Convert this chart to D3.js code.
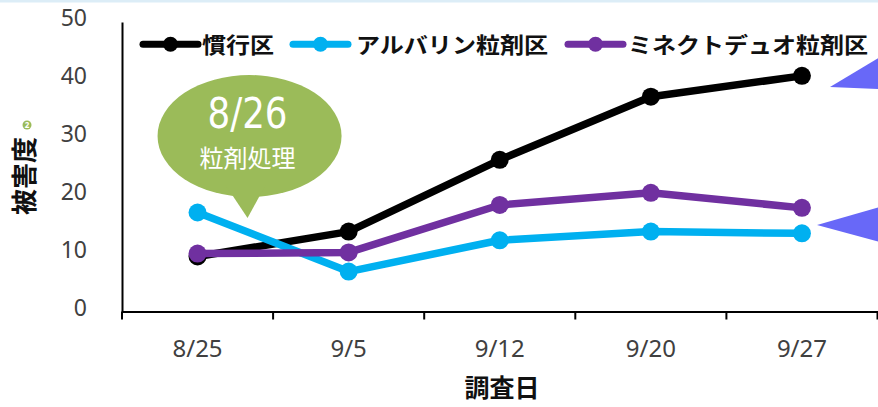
<!DOCTYPE html>
<html>
<head>
<meta charset="utf-8">
<script src="https://cdn.jsdelivr.net/npm/d3@7"></script>
<style>
  html, body { margin: 0; padding: 0; background: #fff; }
  svg { display: block; }
  .tick text { font-family: "Noto Sans", sans-serif; }
  .jp { font-family: "Noto Sans CJK JP", sans-serif; }
</style>
</head>
<body>
<svg id="chart" width="878" height="407"></svg>
<script>
// === Datos ===
const dates = ['8/25', '9/5', '9/12', '9/20', '9/27'];
const seriesNames = ['慣行区', 'アルバリン粒剤区', 'ミネクトデュオ粒剤区'];
const seriesColors = ['#000000', '#00b0f0', '#7030a0'];
const kanko = [9.5, 13.8, 26.2, 37.1, 40.7];
const albarin = [17.1, 6.9, 12.3, 13.8, 13.5];
const minecto = [10.0, 10.2, 18.4, 20.5, 17.9];
const yTicks = [0, 10, 20, 30, 40, 50];

const W = 878, H = 407;
const margin = { top: 22, right: 0, bottom: 95.5, left: 122 };
const svg = d3.select('#chart');

// franja superior
svg.append('rect').attr('x', 0).attr('y', 0).attr('width', W).attr('height', 2.5).attr('fill', '#dcedf7');

// === Escalas ===
const x = d3.scaleBand().domain(dates).range([margin.left, margin.left + 151.1 * dates.length]);
const y = d3.scaleLinear().domain([0, 50]).range([H - margin.bottom, margin.top]);
const cx = d => x(d) + x.bandwidth() / 2;

// === Ejes ===
const yAxis = svg.append('g')
  .attr('transform', `translate(${margin.left},0)`)
  .call(d3.axisLeft(y).tickValues(yTicks).tickSize(0).tickPadding(35));
yAxis.select('.domain').attr('stroke', '#000').attr('stroke-width', 2);
yAxis.selectAll('.tick text').attr('font-size', 23).attr('fill', '#404040').attr('dy', '0.17em');

const xAxis = svg.append('g')
  .attr('transform', `translate(0,${y(0)})`)
  .call(d3.axisBottom(x).tickSize(0).tickPadding(28));
xAxis.select('.domain').attr('stroke', '#000').attr('stroke-width', 2.2);
xAxis.selectAll('.tick text').attr('font-size', 24).attr('fill', '#404040');
// ticks en los bordes de categoría
xAxis.selectAll('line.bnd')
  .data(dates.concat(['end']))
  .join('line')
  .attr('class', 'bnd')
  .attr('x1', (d, i) => margin.left + i * x.step())
  .attr('x2', (d, i) => margin.left + i * x.step())
  .attr('y1', 0).attr('y2', 8)
  .attr('stroke', '#000').attr('stroke-width', 2);

// títulos de ejes
svg.append('text').attr('class', 'jp')
  .attr('x', 502).attr('y', 397)
  .attr('text-anchor', 'middle').attr('font-size', 25).attr('font-weight', 'bold').attr('fill', '#111')
  .text('調査日');
svg.append('text').attr('class', 'jp')
  .attr('transform', 'translate(34,176) rotate(-90)')
  .attr('text-anchor', 'middle').attr('font-size', 26).attr('font-weight', 'bold').attr('fill', '#111')
  .text('被害度');
svg.append('circle').attr('cx', 27).attr('cy', 125).attr('r', 4.5).attr('fill', '#9bbb59');
svg.append('text').attr('x', 27).attr('y', 128).attr('text-anchor', 'middle')
  .attr('font-family', 'Noto Sans, sans-serif').attr('font-weight', 'bold').attr('font-size', 8).attr('fill', '#fff').text('2');

// === Globo 8/26 ===
const bx = cx('8/25') + 50;
const balloon = svg.append('g');
balloon.append('ellipse').attr('cx', bx + 2).attr('cy', 136).attr('rx', 92).attr('ry', 61).attr('fill', '#9bbb59');
balloon.append('path')
  .attr('d', `M${bx - 22},185 L${bx + 18},185 L${bx},218 Z`)
  .attr('fill', '#9bbb59');
balloon.append('text')
  .attr('x', bx).attr('y', 128)
  .attr('text-anchor', 'middle').attr('fill', '#fff')
  .attr('font-family', 'DejaVu Sans Condensed, DejaVu Sans, sans-serif').attr('font-weight', 300)
  .attr('font-size', 43).attr('textLength', 80).attr('lengthAdjust', 'spacingAndGlyphs')
  .text('8/26');
balloon.append('text').attr('class', 'jp')
  .attr('x', bx).attr('y', 167)
  .attr('text-anchor', 'middle').attr('fill', '#fff').attr('font-size', 24)
  .text('粒剤処理');

// === Flechas azules (decoración a la derecha) ===
svg.append('path').attr('d', 'M830,87 L880,57 L880,89 Z').attr('fill', '#6868f8');
svg.append('path').attr('d', 'M817,225 L880,207 L880,242 Z').attr('fill', '#6868f8');

// === Series ===
const series = [kanko, albarin, minecto].map((vals, i) => ({
  name: seriesNames[i], color: seriesColors[i],
  pts: vals.map((v, j) => ({ d: dates[j], v }))
}));
const line = d3.line().x(p => cx(p.d)).y(p => y(p.v));
series.forEach(s => {
  const g = svg.append('g');
  g.append('path').datum(s.pts).attr('d', line)
    .attr('fill', 'none').attr('stroke', s.color).attr('stroke-width', 7.5).attr('stroke-linejoin', 'round');
  g.selectAll('circle').data(s.pts).join('circle')
    .attr('cx', p => cx(p.d)).attr('cy', p => y(p.v)).attr('r', 9).attr('fill', s.color);
});

// === Leyenda ===
const legendX = [143, 293, 568];
const legendTextX = [202, 356, 628];
const legendTextW = [72, 192, 240];
const ly = 44.3;
const legend = svg.append('g');
series.forEach((s, i) => {
  legend.append('line')
    .attr('x1', legendX[i]).attr('x2', legendX[i] + 55).attr('y1', ly).attr('y2', ly)
    .attr('stroke', s.color).attr('stroke-width', 7).attr('stroke-linecap', 'round');
  legend.append('circle').attr('cx', legendX[i] + 27.5).attr('cy', ly).attr('r', 7.5).attr('fill', s.color);
  legend.append('text').attr('class', 'jp')
    .attr('x', legendTextX[i]).attr('y', ly + 8.5)
    .attr('font-size', 22).attr('font-weight', 'bold').attr('fill', '#111')
    .attr('textLength', legendTextW[i]).attr('lengthAdjust', 'spacingAndGlyphs')
    .text(s.name);
});
</script>
</body>
</html>
